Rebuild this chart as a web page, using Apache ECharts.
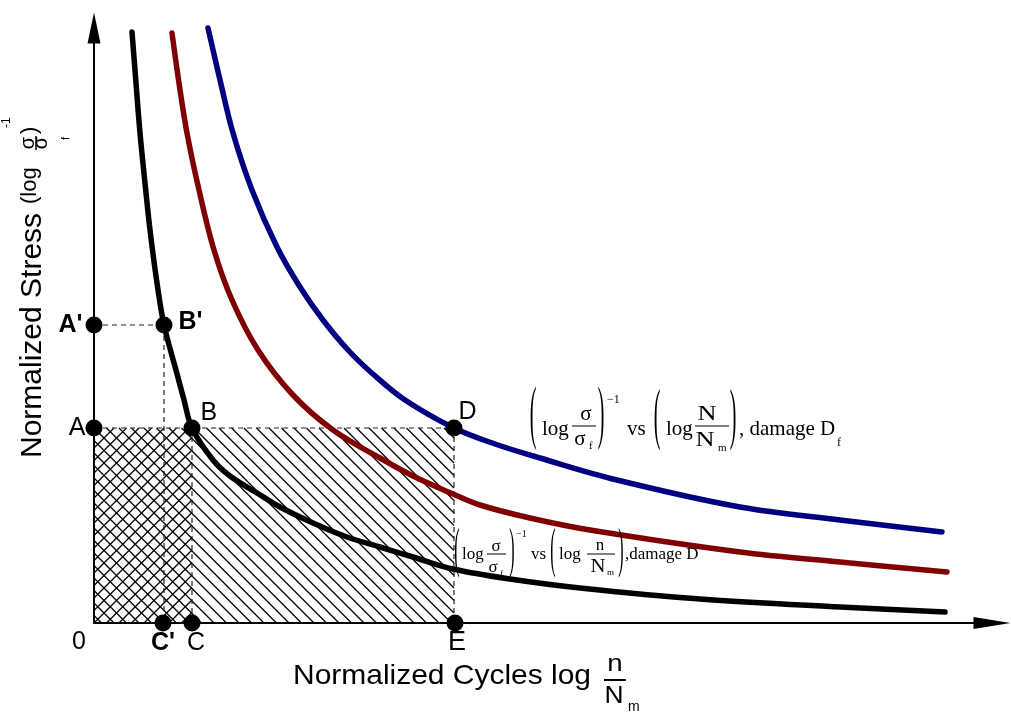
<!DOCTYPE html>
<html><head><meta charset="utf-8">
<script src="https://cdn.jsdelivr.net/npm/echarts@6/dist/echarts.min.js"></script>
<style>html,body{margin:0;padding:0;background:#fff}#chart{width:1011px;height:713px}</style>
</head><body><div id="chart"></div>
<script>
// ---------------- data ----------------
// black curve: (log σ/σf)^-1 vs (log n/Nm), damage D
const blackX = [0.38, 0.42, 0.46, 0.51, 0.56, 0.63, 0.70, 0.82, 0.90, 0.98, 1.19, 1.36, 1.63, 1.86, 2.19, 2.53, 2.86, 3.19, 3.59, 4.16, 4.86, 6.06, 7.46, 8.51];
const blackY = [5.91, 5.40, 4.90, 4.40, 3.93, 3.40, 2.98, 2.53, 2.23, 1.95, 1.63, 1.47, 1.30, 1.16, 1.00, 0.86, 0.76, 0.66, 0.54, 0.44, 0.35, 0.24, 0.16, 0.11];
// dark red (intermediate) curve
const redX = [0.78, 0.85, 0.93, 1.05, 1.20, 1.38, 1.64, 1.99, 2.39, 2.86, 3.19, 3.59, 3.86, 4.36, 4.96, 6.46, 7.46, 8.53];
const redY = [5.90, 5.40, 4.90, 4.33, 3.73, 3.23, 2.73, 2.28, 1.93, 1.65, 1.47, 1.29, 1.18, 1.05, 0.93, 0.71, 0.61, 0.51];
// navy curve: (log σ/σf)^-1 vs (log N/Nm), damage Df
const blueX = [1.14, 1.26, 1.39, 1.58, 1.83, 2.06, 2.29, 2.54, 2.80, 3.11, 3.60, 4.01, 4.46, 5.23, 6.46, 7.46, 8.48];
const blueY = [5.95, 5.43, 4.90, 4.33, 3.76, 3.36, 3.03, 2.73, 2.48, 2.23, 1.95, 1.79, 1.65, 1.43, 1.16, 1.03, 0.91];
// labelled points
const pointNames = ["A'", "A", "B'", "B", "D", "C'", "C", "E", "0"];
const pointX = [0, 0, 0.70, 0.98, 3.60, 0.69, 0.98, 3.61, 0];
const pointY = [2.98, 1.95, 2.98, 1.95, 1.95, 0, 0, 0, 0];
// axis extents
const xMax = 8.98;
const yMax = 5.95;

// ---------------- helpers ----------------
const zip = (xs, ys) => xs.map((x, i) => [x, ys[i]]);
const P = name => [pointX[pointNames.indexOf(name)], pointY[pointNames.indexOf(name)]];

const SANS = '"Liberation Sans", Arial, Helvetica, sans-serif';
const SERIF = '"Liberation Serif", "Times New Roman", Times, serif';

// point label styles
const labelStyle = {
  "A'": {position: 'left', distance: 3, offset: [0, 0], bold: true, size: 25},
  "A":  {position: 'left', distance: 0, offset: [0, 0], size: 25},
  "B'": {position: 'right', distance: 6, offset: [0, -3], bold: true, size: 25},
  "B":  {position: 'right', distance: 0, offset: [0, -15], size: 25},
  "D":  {position: 'right', distance: -4, offset: [0, -16], size: 25},
  "C'": {position: 'bottom', distance: -1, offset: [0, 0], bold: true, size: 25},
  "C":  {position: 'bottom', distance: -1, offset: [4, 0], size: 25},
  "E":  {position: 'bottom', distance: -2, offset: [2, 0], size: 27},
  "0":  {position: 'bottom', distance: 6, offset: [-15, 0], size: 25, hidden: true}
};

function T(s, x, base, size, o) {
  o = o || {};
  return {
    type: 'text', x: x, y: base - 0.34 * size, scaleX: o.sx || 1, scaleY: o.sy || 1, z: 100,
    style: {text: s, font: (o.bold ? 'bold ' : '') + size + 'px ' + (o.serif ? SERIF : SANS),
      fill: '#000', align: o.align || 'left', verticalAlign: 'middle'}
  };
}
function PAREN(ch, cx, cy, size, h) {
  const sy = h / (0.853 * size);
  return {type: 'text', x: cx, y: cy - 0.088 * size * sy, scaleY: sy, z: 100,
    style: {text: ch, font: size + 'px ' + SERIF, fill: '#000', align: 'center', verticalAlign: 'middle'}};
}
function LN(x1, y1, x2, y2, w) {
  return {type: 'line', z: 100, shape: {x1: x1, y1: y1, x2: x2, y2: y2}, style: {stroke: '#000', lineWidth: w || 1}};
}
const S = {serif: true};
const SC = {serif: true, align: 'center'};

// ---------------- chart ----------------
const chart = echarts.init(document.getElementById('chart'), null, {renderer: 'canvas'});

function axisCommon(max, symSize) {
  return {
    type: 'value', min: 0, max: max,
    axisLine: {show: true, onZero: false, symbol: ['none', 'triangle'], symbolSize: symSize,
      lineStyle: {color: '#000', width: 2}},
    axisTick: {show: false}, axisLabel: {show: false}, splitLine: {show: false}
  };
}

const hatchTop = P('A')[1];
const crossRight = P('B')[0];
const diagRight = P('D')[0];

const curveLine = (xs, ys, color) => ({
  type: 'line', data: zip(xs, ys), smooth: 0.35, symbol: 'none', showSymbol: false, clip: false,
  silent: true, z: 4, lineStyle: {color: color, width: 5.5, cap: 'round', join: 'round', opacity: 1}
});
const dashLine = pts => ({
  type: 'line', data: pts, symbol: 'none', showSymbol: false, clip: false, silent: true, z: 3,
  lineStyle: {color: '#222', width: 1.2, type: [5, 4]}
});

const option = {
  animation: false,
  backgroundColor: '#ffffff',
  grid: {left: 94, top: 28, width: 898, height: 595, containLabel: false, outerBoundsMode: 'none'},
  xAxis: axisCommon(xMax, [12, 37]),
  yAxis: axisCommon(yMax, [13, 31]),
  series: [
    {
      type: 'custom', coordinateSystem: 'cartesian2d', clip: false, silent: true, z: 2,
      data: [[0, 0]],
      renderItem: function (params, api) {
        const tl = api.coord([0, hatchTop]);
        const bl = api.coord([0, 0]);
        const L = tl[0], T0 = tl[1], B = bl[1];
        const Rc = api.coord([crossRight, 0])[0];
        const Rd = api.coord([diagRight, 0])[0];
        const step = 12.5;
        const kids = [];
        const st = {stroke: '#000', lineWidth: 1.3};
        // "\" lines: y = x + c over the whole rectangle
        const c0 = T0 - L;
        for (let k = Math.ceil((T0 - Rd - c0) / step); k <= Math.floor((B - L - c0) / step); k++) {
          const c = c0 + k * step;
          const x1 = Math.max(L, T0 - c), x2 = Math.min(Rd, B - c);
          if (x2 > x1) kids.push({type: 'line', shape: {x1: x1, y1: x1 + c, x2: x2, y2: x2 + c}, style: st});
        }
        // "/" lines: x + y = c over the cross-hatched part
        const d0 = L + B;
        for (let k = Math.ceil((L + T0 - d0) / step); k <= Math.floor((Rc + B - d0) / step); k++) {
          const c = d0 + k * step;
          const x1 = Math.max(L, c - B), x2 = Math.min(Rc, c - T0);
          if (x2 > x1) kids.push({type: 'line', shape: {x1: x1, y1: c - x1, x2: x2, y2: c - x2}, style: st});
        }
        return {type: 'group', children: kids};
      }
    },
    dashLine([P("A'"), P("B'"), [P("B'")[0], 0]]),
    dashLine([P('A'), P('D'), [P('D')[0], 0]]),
    dashLine([P('B'), [P('B')[0], 0]]),
    curveLine(blackX, blackY, '#000000'),
    curveLine(redX, redY, '#800000'),
    curveLine(blueX, blueY, '#000080'),
    {
      type: 'scatter', silent: true, z: 6, clip: false,
      itemStyle: {opacity: 1},
      data: pointNames.map((n, i) => {
        const ls = labelStyle[n];
        return {
          name: n, value: [pointX[i], pointY[i]],
          symbolSize: ls.hidden ? 1 : 17,
          itemStyle: {color: ls.hidden ? 'rgba(0,0,0,0)' : '#000', opacity: 1},
          label: {show: true, formatter: '{b}', position: ls.position, distance: ls.distance, offset: ls.offset,
            fontSize: ls.size, fontWeight: ls.bold ? 'bold' : 'normal', fontFamily: SANS, color: '#000', opacity: 1}
        };
      })
    }
  ],
  graphic: {elements: [
    // upper formula
    PAREN('(', 533, 423, 20, 60),
    T('log', 542, 437, 21, S),
    T('σ', 586, 422, 21, SC),
    LN(572, 426, 596, 426, 1),
    T('σ', 580, 447, 21, SC),
    T('f', 589, 450, 11, S),
    PAREN(')', 601, 423, 20, 60),
    T('−1', 607, 404, 12, S),
    T('vs', 627, 437, 21, S),
    PAREN('(', 657, 424, 20, 58),
    T('log', 666, 437, 21, S),
    T('N', 707, 422, 22, {serif: true, align: 'center', sx: 1.2}),
    LN(695, 426, 729, 426, 1),
    T('N', 705, 448, 22, {serif: true, align: 'center', sx: 1.2}),
    T('m', 718, 452, 11, S),
    PAREN(')', 733, 424, 20, 58),
    T(', damage D', 739, 437, 21, S),
    T('f', 837, 447, 12, S),
    // lower formula
    PAREN('(', 457, 556, 16, 47),
    T('log', 462, 560, 17, S),
    T('σ', 496, 552, 17, SC),
    LN(487, 554, 506, 554, 1),
    T('σ', 493, 573, 17, SC),
    T('f', 500, 577, 9, S),
    PAREN(')', 512, 556, 16, 47),
    T('−1', 516, 538, 10, S),
    T('vs', 531, 560, 17, S),
    PAREN('(', 553, 556, 16, 47),
    T('log', 559, 560, 17, S),
    T('n', 600, 551, 17, SC),
    LN(587, 554, 615, 554, 1),
    T('N', 598, 573, 18, {serif: true, align: 'center', sx: 1.15}),
    T('m', 607, 576, 9, S),
    PAREN(')', 621, 556, 16, 47),
    T(',damage D', 625, 560, 17, S),
    // x axis title
    T('Normalized Cycles log', 293, 686, 28, {sx: 1.07}),
    T('n', 615, 673, 24, {align: 'center', sx: 1.15}),
    LN(604, 680, 626, 680, 2),
    T('N', 614, 705, 24, {align: 'center', sx: 1.1}),
    T('m', 628, 712, 14),
    // y axis title (rotated)
    {type: 'group', x: 33, y: 458, rotation: Math.PI / 2, children: [
      T('Normalized Stress', 0, 10, 30),
      T('(log', 254, 4, 22),
      T('σ', 315, 2, 20, {align: 'center'}),
      LN(308, 3, 322, 3, 1.5),
      T('σ', 315, 15, 20, {align: 'center'}),
      T('f', 318, 37, 11),
      T(')', 324, 4, 22),
      T('-1', 330, -22, 12)
    ]}
  ]}
};
chart.setOption(option);
</script>
</body></html>
